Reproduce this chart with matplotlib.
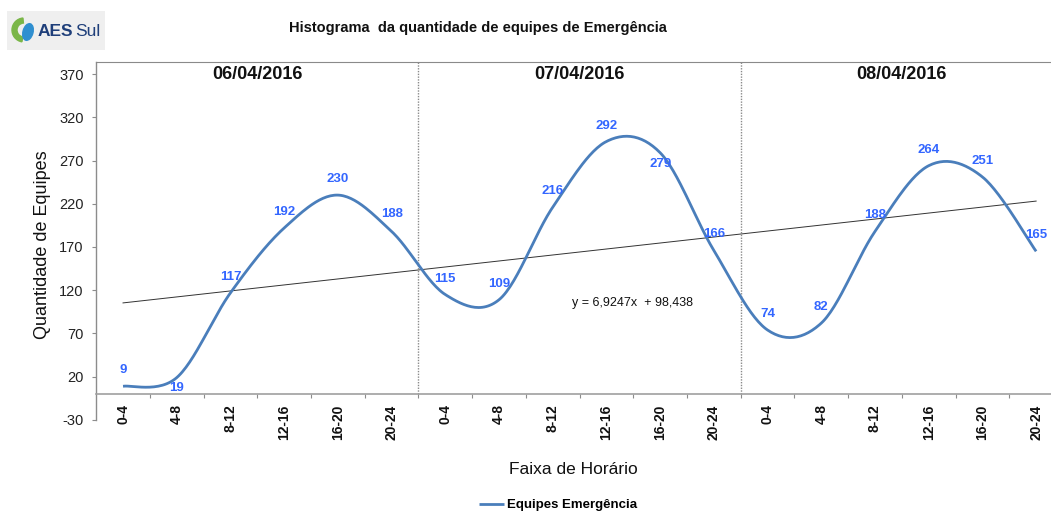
import matplotlib
matplotlib.use("Agg")
import matplotlib.pyplot as plt
import numpy as np
from matplotlib.patches import Rectangle, Wedge, Ellipse

plt.rcParams['font.family'] = ['Liberation Sans', 'DejaVu Sans']
plt.rcParams['axes.unicode_minus'] = False

# Dados: equipes de emergência por faixa de horário, três dias
dias = ['06/04/2016', '07/04/2016', '08/04/2016']
faixas = ['0-4', '4-8', '8-12', '12-16', '16-20', '20-24']
equipes_d1 = [9, 19, 117, 192, 230, 188]
equipes_d2 = [115, 109, 216, 292, 279, 166]
equipes_d3 = [74, 82, 188, 264, 251, 165]

# deslocamento vertical dos rótulos (pontos)
rotulo_dy = [11.5, -7.5, 11.5, 11.5, 11.5, 12.5,
             11.5, 11.5, 11.5, 11.5, -8.0, 11.5,
             11.5, 11.5, 11.5, 11.5, 11.5, 11.5]

LINHA = '#4a7ebb'
ROTULO = '#3366ff'
CINZA = '#8c8c8c'


def suavizar(y, n=30):
    # curva suavizada (Bezier estilo Catmull-Rom, como no Excel)
    y = np.asarray(y, dtype=float)
    x = np.arange(len(y), dtype=float)
    px = np.concatenate([[x[0]], x, [x[-1]]])
    py = np.concatenate([[y[0]], y, [y[-1]]])
    xs, ys = [], []
    t = np.linspace(0, 1, n)
    for i in range(len(y) - 1):
        p0 = np.array([px[i + 1], py[i + 1]])
        p3 = np.array([px[i + 2], py[i + 2]])
        c1 = p0 + (p3 - np.array([px[i], py[i]])) / 6
        c2 = p3 - (np.array([px[i + 3], py[i + 3]]) - p0) / 6
        b = ((1 - t) ** 3)[:, None] * p0 + (3 * (1 - t) ** 2 * t)[:, None] * c1 \
            + (3 * (1 - t) * t ** 2)[:, None] * c2 + (t ** 3)[:, None] * p3
        xs.append(b[:, 0])
        ys.append(b[:, 1])
    return np.concatenate(xs), np.concatenate(ys)


def main():
    valores = equipes_d1 + equipes_d2 + equipes_d3
    n = len(valores)
    idx = np.arange(n)

    fig = plt.figure(figsize=(10.51, 5.11), dpi=100)
    ax = fig.add_axes([0.0915, 0.1781, 0.9199, 0.7006])

    topo = 383.9
    ax.set_xlim(-0.5, n - 0.5)
    ax.set_ylim(-30, topo)

    # linha suavizada
    sx, sy = suavizar(valores)
    linha, = ax.plot(sx, sy, color=LINHA, lw=2.0, solid_capstyle='butt',
                     label='Equipes Emergência', zorder=3)

    # linha de tendência linear
    a, b = np.polyfit(idx + 1, valores, 1)
    ax.plot(idx, a * (idx + 1) + b, color='#333333', lw=0.7, zorder=2)
    eq = f'y = {a:.4f}x  + {b:.3f}'.replace('.', ',')
    ax.text(9.48, 105, eq, fontsize=9, ha='center', va='center', color='#111111')

    # rótulos de dados
    for i, v in enumerate(valores):
        ax.annotate(str(v), (i, v), xytext=(0, rotulo_dy[i]), textcoords='offset points',
                    ha='center', va='center', color=ROTULO, fontsize=9.5,
                    fontweight='bold', zorder=4)

    # separação entre os dias
    ax.vlines([5.5, 11.5], 0, topo, colors='#8a8a8a', linestyles=(0, (1, 1)), lw=1.0)
    for k, dia in enumerate(dias):
        ax.text(2.5 + 6 * k, 370, dia, fontsize=13, fontweight='bold',
                ha='center', va='center', color='#111111')

    # eixos
    ax.spines['bottom'].set_position(('data', 0))
    ax.spines['bottom'].set_color('#a0a0a0')
    ax.spines['bottom'].set_linewidth(1.2)
    ax.spines['left'].set_color(CINZA)
    ax.spines['left'].set_linewidth(1.0)
    for lado in ['top', 'right']:
        ax.spines[lado].set_color('#8a8a8a')
        ax.spines[lado].set_linestyle((0, (1, 1)))
        ax.spines[lado].set_linewidth(0.8)

    ax.set_xticks(idx)
    ax.set_xticklabels(faixas * 3, rotation=90, fontweight='bold', fontsize=10)
    ax.set_xticks(np.arange(0.5, n - 1, 1), minor=True)
    ax.tick_params(axis='x', which='major', length=0, pad=7.5, colors='#111111')
    ax.tick_params(axis='x', which='minor', length=3, width=0.8, color=CINZA, direction='out')

    ax.set_yticks(np.arange(-30, 371, 50))
    ax.tick_params(axis='y', length=3, width=0.8, color=CINZA, pad=6,
                   labelsize=10.5, labelcolor='#222222')

    ax.set_ylabel('Quantidade de Equipes', fontsize=13, color='#111111')
    ax.yaxis.set_label_coords(-0.047, 0.49)

    fig.text(573 / 1051, 1 - 470 / 511, 'Faixa de Horário', fontsize=12.5,
             ha='center', va='center', color='#111111')
    fig.text(478 / 1051, 1 - 28 / 511, 'Histograma  da quantidade de equipes de Emergência',
             fontsize=10.5, fontweight='bold', ha='center', va='center', color='#111111')

    fig.legend(handles=[linha], loc='center', bbox_to_anchor=(558 / 1051, 1 - 505 / 511),
               frameon=False, prop={'weight': 'bold', 'size': 9.5},
               handlelength=1.9, handletextpad=0.2)

    # logotipo
    lg = fig.add_axes([7 / 1051, 1 - 50 / 511, 98 / 1051, 39 / 511])
    lg.set_xlim(0, 98)
    lg.set_ylim(0, 39)
    lg.set_axis_off()
    lg.add_patch(Rectangle((0, 0), 98, 39, color='#efefef', zorder=0))
    lg.add_patch(Wedge((17, 20), 12, 95, 260, width=5, color='#7ab648', zorder=1))
    lg.add_patch(Ellipse((21, 18), 10, 17, angle=-15, color='#2f8fd0', zorder=2))
    lg.text(31, 19, 'AES', fontsize=12.5, fontweight='bold', color='#1f3f7a',
            ha='left', va='center')
    lg.text(68, 19, 'Sul', fontsize=12.5, color='#1f3f7a', ha='left', va='center')

    fig.savefig('out.png', dpi=100)


if __name__ == '__main__':
    main()
